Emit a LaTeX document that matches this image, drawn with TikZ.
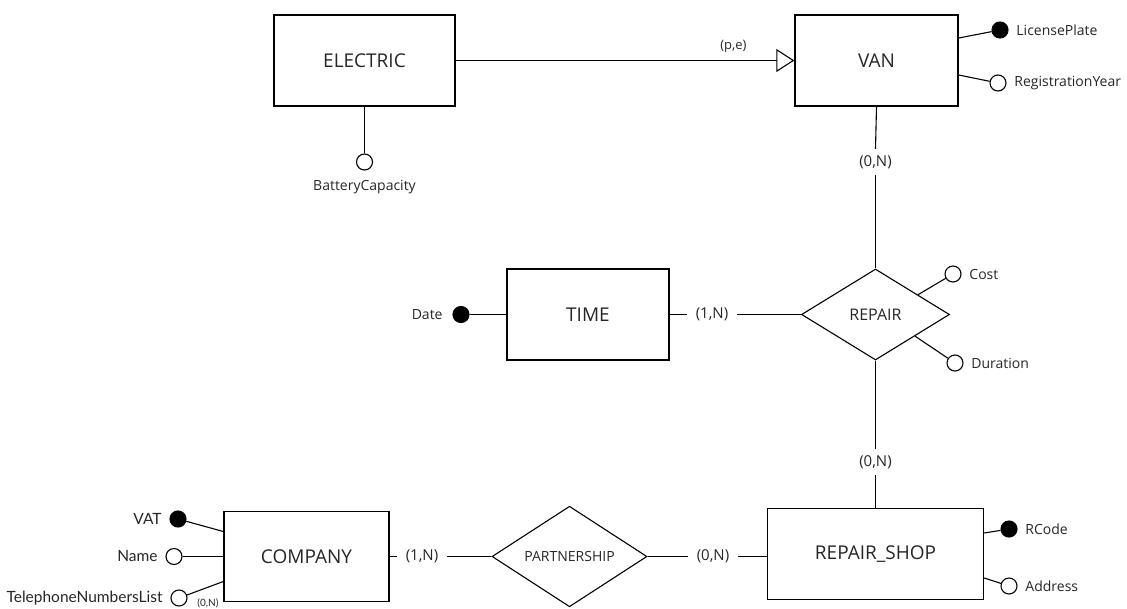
\documentclass[tikz,border=0pt]{standalone}
\usepackage{fontspec}
\setmainfont{Open Sans}
\newfontfamily\latofont{Lato}
\usetikzlibrary{shapes.geometric,arrows.meta,calc}

\begin{document}
\begin{tikzpicture}[x=1pt, y=-1pt, line width=1.1pt,
  entity/.style={draw, line width=1.4pt, minimum height=91pt, text=black!85,
    font=\fontsize{19}{22}\selectfont},
  relation/.style={draw, diamond, inner sep=0pt, text=black!85},
  attr/.style={draw, circle, minimum size=16pt, inner sep=0pt, fill=white},
  keyattr/.style={attr, fill=black},
  attrtext/.style={text=black!85, font=\fontsize{14}{16}\selectfont},
  latotext/.style={text=black!85, font=\latofont\fontsize{15.5}{17}\selectfont},
  card/.style={text=black!85, font=\fontsize{15}{17}\selectfont, inner xsep=8pt, inner ysep=6pt},
  label distance=4pt]

\useasboundingbox (0,0) rectangle (1127,608);

% entities
\node[entity, minimum width=181pt] (electric) at (364.5,60.5) {ELECTRIC};
\node[entity, minimum width=163pt] (van) at (876.5,60.5) {VAN};
\node[entity, minimum width=162pt] (time) at (588,314.5) {TIME};
\node[entity, minimum width=216pt] (shop) at (875.5,554) {REPAIR\_SHOP};
\node[entity, minimum width=165pt, minimum height=90pt] (company) at (306.5,556.5) {COMPANY};

% relations
\node[relation, minimum width=148pt, minimum height=91pt,
  font=\fontsize{16}{18}\selectfont] (repair) at (875.5,314.5) {REPAIR};
\node[relation, minimum width=155pt, minimum height=86pt,
  font=\fontsize{14}{16}\selectfont] (partner) at (569.5,556.5) {PARTNERSHIP};

% generalization
\draw[-{Triangle[open, length=18pt, width=23pt]}] (electric.east) -- (van.west)
  node[pos=0.82, above=4pt, text=black!85, font=\fontsize{13}{15}\selectfont] {(p,e)};

% attributes
\node[keyattr, label={[attrtext]right:LicensePlate}] (plate) at (1000,30) {};
\node[attr, label={[attrtext]right:RegistrationYear}] (regyear) at (998,83) {};
\node[attr, label={[attrtext, label distance=6pt]below:BatteryCapacity}] (battery) at (364.5,162) {};
\node[keyattr, label={[attrtext, label distance=6pt]left:Date}] (date) at (461,314.5) {};
\node[attr, label={[attrtext]right:Cost}] (cost) at (953,274) {};
\node[attr, label={[attrtext]right:Duration}] (duration) at (955,363) {};
\node[keyattr, label={[attrtext]right:RCode}] (rcode) at (1009,529) {};
\node[attr, label={[attrtext]right:Address}] (address) at (1009,586) {};
\node[keyattr, label={[latotext]left:VAT}] (vat) at (178,519) {};
\node[attr, label={[latotext]left:Name}] (name) at (174,556.5) {};
\node[attr, label={[latotext]left:TelephoneNumbersList}] (phones) at (179,598) {};

\draw ([yshift=22.5pt]van.east) -- (plate);
\draw ([yshift=-14.5pt]van.east) -- (regyear);
\draw (electric.south) -- (battery);
\draw (time.west) -- (date);
\draw ($(repair.north)!0.57!(repair.east)$) -- (cost);
\draw ($(repair.east)!0.47!(repair.south)$) -- (duration);
\draw ([yshift=21pt]shop.east) -- (rcode);
\draw ([yshift=-24pt]shop.east) -- (address);
\draw ([yshift=25pt]company.west) -- (vat);
\draw (company.west) -- (name);
\draw ([yshift=-25pt]company.west) -- (phones);
\node[text=black!85, font=\latofont\fontsize{10}{12}\selectfont] (phonecard) at (208,603) {(0,N)};

% cardinalities
\node[card] (cvan) at (875.5,162) {(0,N)};
\node[card] (ctime) at (712,314.5) {(1,N)};
\node[card] (cshop) at (875.5,462) {(0,N)};
\node[card] (ccompany) at (422,556.5) {(1,N)};
\node[card] (cpartner) at (713,556.5) {(0,N)};

\draw (van.south) -- (cvan.north);
\draw (cvan.south) -- (repair.north);
\draw (time.east) -- (ctime.west);
\draw (ctime.east) -- (repair.west);
\draw (repair.south) -- (cshop.north);
\draw (cshop.south) -- (shop.north);
\draw (company.east) -- (ccompany.west);
\draw (ccompany.east) -- (partner.west);
\draw (partner.east) -- (cpartner.west);
\draw (cpartner.east) -- (cpartner.east -| shop.west);

\end{tikzpicture}
\end{document}
